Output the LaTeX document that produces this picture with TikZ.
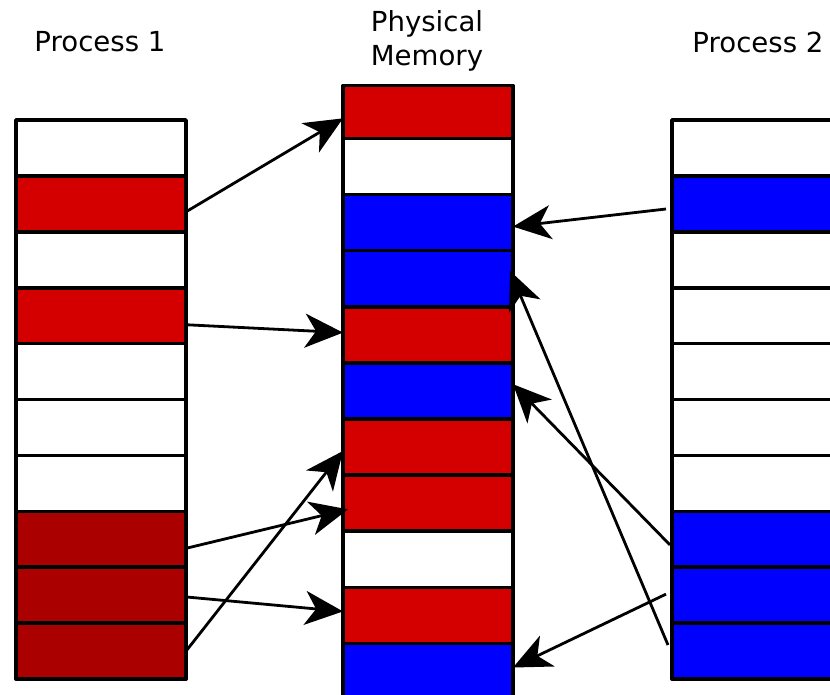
\documentclass[tikz,border=0pt]{standalone}
\usepackage{fontspec}
\setmainfont{DejaVu Sans}
\usetikzlibrary{arrows.meta,calc}
\definecolor{pagered}{HTML}{D40000}
\definecolor{pagedark}{HTML}{AA0000}
\definecolor{pageblue}{HTML}{0000FF}
\begin{document}
\begin{tikzpicture}[x=1pt,y=-1pt,
  cell/.style={draw=black,line width=3.6pt,minimum width=170pt,minimum height=56.1pt,
    inner sep=0pt,outer sep=0pt,anchor=north west,line join=round},
  title/.style={font=\fontsize{27.6}{34}\selectfont,align=center},
  link/.style={line width=2.8pt,-{Stealth[length=38pt,width=34pt,inset=11pt]}}]
\clip (0,0) rectangle (830,695);
\fill[white] (0,0) rectangle (830,695);

% column headings
\node[title] (t1) at (100,42) {Process 1};
\node[title] (tm) at (427,41) {Physical\\Memory};
\node[title] (t2) at (758,42) {Process 2};

% pages of process 1
\foreach \c [count=\i] in {white,pagered,white,pagered,white,white,white,pagedark,pagedark,pagedark}
  \node[cell,fill=\c] (pa\i) at (16,{120+55.9*(\i-1)}) {};

% frames of physical memory (the first frame is slightly shorter)
\node[cell,fill=pagered,minimum height=53pt] (m1) at (343,85.5) {};
\foreach \c [count=\i from 2] in {white,pageblue,pageblue,pagered,pageblue,pagered,pagered,white,pagered,pageblue}
  \node[cell,fill=\c] (m\i) at (343,{138.5+56.1*(\i-2)}) {};

% pages of process 2
\foreach \c [count=\i] in {white,pageblue,white,white,white,white,white,pageblue,pageblue,pageblue}
  \node[cell,fill=\c] (pb\i) at (672,{120+55.9*(\i-1)}) {};

% process 1 mappings
\draw[link] ($(pa2.north east)!0.64!(pa2.south east)$) -- ($(m1.north west)!0.62!(m1.south west)$);
\draw[link] ($(pa4.north east)!0.66!(pa4.south east)$) -- ($(m5.north west)!0.46!(m5.south west)$);
\draw[link] ($(pa8.north east)!0.66!(pa8.south east)$) -- ($(m8.north west)!0.61!(m8.south west)+(5,0)$);
\draw[link] ($(pa9.north east)!0.53!(pa9.south east)$) -- ($(m10.north west)!0.43!(m10.south west)$);
\draw[link] ($(pa10.north east)!0.5!(pa10.south east)$) -- ($(m7.north west)!0.57!(m7.south west)$);

% process 2 mappings
\draw[link] ($(pb2.north west)!0.59!(pb2.south west)+(-6,0)$) -- ($(m3.north east)!0.57!(m3.south east)$);
\draw[link] ($(pb8.north west)!0.6!(pb8.south west)+(-2,0)$) -- ($(m6.north east)!0.38!(m6.south east)$);
\draw[link] ($(pb10.north west)!0.39!(pb10.south west)+(-4,0)$) -- ($(m4.north east)!0.36!(m4.south east)+(-3,0)$);
\draw[link] ($(pb9.north west)!0.48!(pb9.south west)+(-6,0)$) -- ($(m11.north east)!0.43!(m11.south east)$);
\end{tikzpicture}
\end{document}
